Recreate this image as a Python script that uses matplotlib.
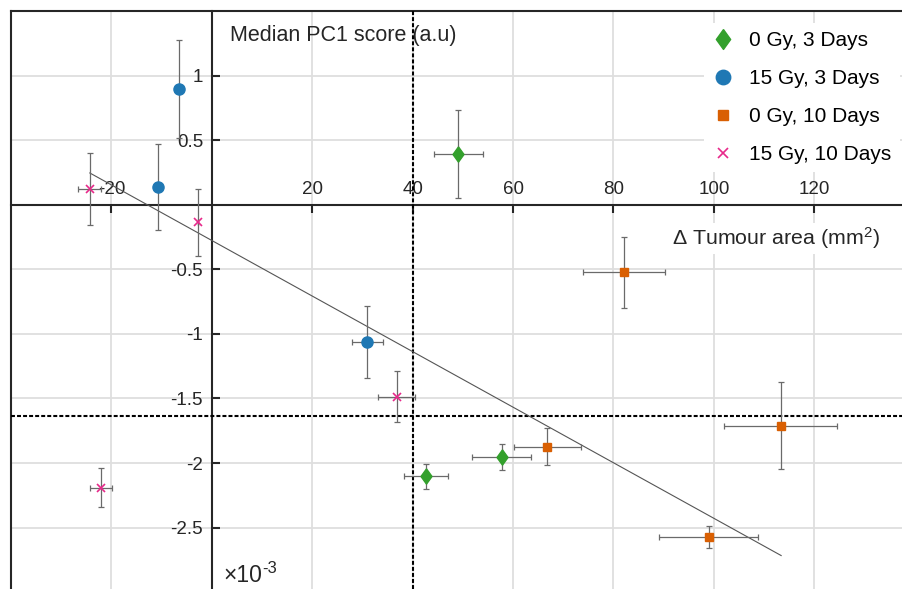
import matplotlib
matplotlib.use('Agg')
import matplotlib.pyplot as plt
import numpy as np

# values (y in units of 1e-3)
# 0 Gy, 3 Days
g0d3_x = [49.1, 42.65, 57.7]
g0d3_y = [0.396, -2.104, -1.954]
g0d3_xerr = [4.9, 4.35, 5.8]
g0d3_yerr = [0.34, 0.10, 0.103]

# 15 Gy, 3 Days
g15d3_x = [-6.5, -10.8, 31.0]
g15d3_y = [0.897, 0.138, -1.061]
g15d3_xerr = [0, 0, 3.1]
g15d3_yerr = [0.377, 0.33, 0.28]

# 0 Gy, 10 Days
g0d10_x = [82.15, 66.8, 113.3, 99.0]
g0d10_y = [-0.521, -1.872, -1.712, -2.572]
g0d10_xerr = [8.2, 6.7, 11.3, 9.85]
g0d10_yerr = [0.275, 0.142, 0.336, 0.086]

# 15 Gy, 10 Days
g15d10_x = [-24.3, -2.83, 36.8, -22.15]
g15d10_y = [0.122, -0.136, -1.485, -2.192]
g15d10_xerr = [2.3, 0, 3.7, 2.2]
g15d10_yerr = [0.275, 0.26, 0.2, 0.15]

# linear fit and the two thresholds
fit_x = [-24.3, 113.4]
fit_y = [0.246, -2.716]
thresh_x = 40
thresh_y = -1.632

xticks = [-20, 20, 40, 60, 80, 100, 120]
yticks = [-2.5, -2, -1.5, -1, -0.5, 0.5, 1]

plt.rcParams['font.family'] = ['Liberation Sans', 'DejaVu Sans']
plt.rcParams['mathtext.fontset'] = 'custom'
plt.rcParams['mathtext.rm'] = 'Liberation Sans'
plt.rcParams['mathtext.it'] = 'Liberation Sans:italic'
plt.rcParams['axes.unicode_minus'] = False

W, H = 903, 589
fig = plt.figure(figsize=(W/100., H/100.), dpi=100)
# axes box starts at the top-left, runs off the right and bottom of the picture
ax = fig.add_axes([11./W, 0, 1-11./W, 1-11./H])
ax.set_xlim(-40, 137.67)
ax.set_ylim(-2.975, 1.5)

ax.grid(True, color='#dedede', lw=1.3, zorder=0)
ax.set_axisbelow(True)

# axes through the origin, box edges on top/left
ax.spines['top'].set_position(('data', 0))
ax.spines['left'].set_position(('data', 0))
ax.spines['bottom'].set_position(('axes', 1.0))
ax.spines['right'].set_position(('axes', 0.0))
for s in ax.spines.values():
    s.set_linewidth(1.5)
    s.set_color('#262626')
ax.xaxis.set_ticks_position('top')
ax.yaxis.set_ticks_position('left')
ax.set_xticks(xticks)
ax.set_yticks(yticks)
ax.set_xticklabels([str(v) for v in xticks])
ax.set_yticklabels(['%g' % v for v in yticks])
ax.tick_params(axis='x', direction='in', length=6, width=1.5, pad=4.7, labelsize=13.5, colors='#262626')
ax.tick_params(axis='y', direction='in', length=6, width=1.5, pad=6.3, labelsize=13.5, colors='#262626')

ax.axvline(thresh_x, color='k', lw=1.5, dashes=(1.9, 1.0), zorder=3)
ax.axhline(thresh_y, color='k', lw=1.5, dashes=(1.9, 1.0), zorder=3)
ax.plot(fit_x, fit_y, color='#555555', lw=0.8, zorder=3)

ebkw = dict(fmt='none', ecolor='#6a6a6a', elinewidth=0.9, capsize=2.5, capthick=0.9, zorder=4)
ax.errorbar(g0d3_x, g0d3_y, xerr=g0d3_xerr, yerr=g0d3_yerr, **ebkw)
ax.errorbar(g15d3_x, g15d3_y, xerr=g15d3_xerr, yerr=g15d3_yerr, **ebkw)
ax.errorbar(g0d10_x, g0d10_y, xerr=g0d10_xerr, yerr=g0d10_yerr, **ebkw)
ax.errorbar(g15d10_x, g15d10_y, xerr=g15d10_xerr, yerr=g15d10_yerr, **ebkw)

diamond = [(0, 1), (0.72, 0), (0, -1), (-0.72, 0), (0, 1)]
ax.plot(g0d3_x, g0d3_y, ls='none', marker=diamond, ms=11, color='#33a02c', label='0 Gy, 3 Days', zorder=5)
ax.plot(g15d3_x, g15d3_y, ls='none', marker='o', ms=8, color='#1f78b4', label='15 Gy, 3 Days', zorder=5)
ax.plot(g0d10_x, g0d10_y, ls='none', marker='s', ms=6, color='#d95f02', label='0 Gy, 10 Days', zorder=5)
ax.plot(g15d10_x, g15d10_y, ls='none', marker='x', ms=6, mew=1.2, color='#e7298a', label='15 Gy, 10 Days', zorder=5)

leg = fig.legend(loc='upper left', bbox_to_anchor=(694./W, 1-12.5/H), fontsize=15,
                 markerscale=1.3, handlelength=1.0, handletextpad=0.76, labelspacing=0.91,
                 borderpad=0.4, frameon=True, fancybox=False, framealpha=1)
leg.get_frame().set_edgecolor('white')
leg.get_frame().set_linewidth(0)

# axis labels sit inside the plot like in the original
fig.text(230./W, 1-40.7/H, 'Median PC1 score (a.u)', fontsize=15.5, color='#262626', va='baseline')
fig.text(672./W, 1-245./H, u'\u0394 Tumour area (mm$^2$)', fontsize=15.4, color='#262626', va='baseline',
         bbox=dict(facecolor='white', edgecolor='none', pad=2))
fig.text(223./W, 1-581.7/H, u'\u00d710', fontsize=16.5, color='#262626', va='baseline')
fig.text(262./W, 1-573./H, '-3', fontsize=12, color='#262626', va='baseline')

fig.savefig('out.png', dpi=100)
